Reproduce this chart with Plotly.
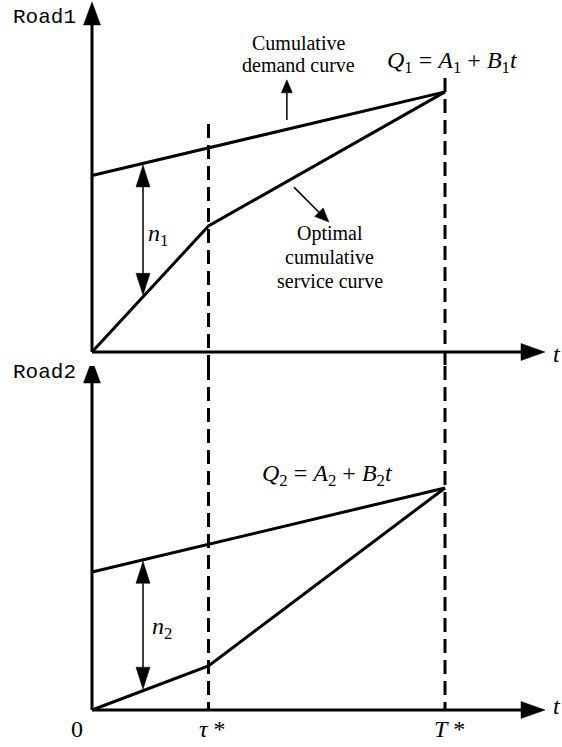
import math
import plotly.graph_objects as go

# ---- data (time normalised so that T* = 10) ----
t_tau = 3.3
t_end = 10.0

# Road 1: cumulative demand Q1 = A1 + B1 t and optimal cumulative service
demand1_t = [0.0, t_end]
demand1_q = [5.0, 7.37]
service1_t = [0.0, t_tau, t_end]
service1_q = [0.0, 3.57, 7.37]

# Road 2: cumulative demand Q2 = A2 + B2 t and optimal cumulative service
demand2_t = [0.0, t_end]
demand2_q = [3.91, 6.29]
service2_t = [0.0, t_tau, t_end]
service2_q = [0.0, 1.25, 6.29]

tick_t = [0.0, t_tau, t_end]
tick_labels = ["0", "<i>τ</i> *", "<i>T</i> *"]

queue_t = 1.445          # where the queue lengths n1, n2 are marked

# ---- layout geometry ----
W, H = 562, 747
PX = 35.3                # pixels per data unit (same on both axes)
ORIGIN_X = 92
ORIGIN_Y1 = 352
ORIGIN_Y2 = 710
SPLIT = 366

x_axis_end = (545 - ORIGIN_X) / PX
y_axis_end = 350 / PX

BLACK = "#000000"
MONO = "Liberation Mono"
SERIF = "Liberation Serif"


def interp(ts, qs, t):
    for i in range(len(ts) - 1):
        if ts[i] <= t <= ts[i + 1]:
            f = (t - ts[i]) / (ts[i + 1] - ts[i])
            return qs[i] + f * (qs[i + 1] - qs[i])
    return qs[-1]


def head(xt, yt, dx, dy, length_px, half_px):
    n = math.hypot(dx, dy)
    ux, uy = dx / n, dy / n
    L, Wd = length_px / PX, half_px / PX
    bx, by = xt - ux * L, yt - uy * L
    nx, ny = -uy, ux
    xs = [xt, bx + nx * Wd, bx - nx * Wd, xt]
    ys = [yt, by + ny * Wd, by - ny * Wd, yt]
    return xs, ys, (bx, by)


fig = go.Figure()


def add_line(xs, ys, yaxis, width=3, dash=None):
    fig.add_trace(go.Scatter(
        x=xs, y=ys, mode="lines", yaxis=yaxis, hoverinfo="skip",
        line=dict(color=BLACK, width=width, dash=dash), showlegend=False))


def add_head(xs, ys, yaxis):
    fig.add_trace(go.Scatter(
        x=xs, y=ys, mode="lines", fill="toself", fillcolor=BLACK, yaxis=yaxis,
        hoverinfo="skip", line=dict(color=BLACK, width=0.5), showlegend=False))


def arrow(x0, y0, x1, y1, yaxis, width, length_px, half_px):
    hx, hy, (bx, by) = head(x1, y1, x1 - x0, y1 - y0, length_px, half_px)
    add_line([x0, bx], [y0, by], yaxis, width=width)
    add_head(hx, hy, yaxis)


def double_arrow(x, y_top, y_bot, yaxis):
    hx, hy, (_, b_top) = head(x, y_top, 0, 1, 22, 7)
    add_head(hx, hy, yaxis)
    hx, hy, (_, b_bot) = head(x, y_bot, 0, -1, 22, 7)
    add_head(hx, hy, yaxis)
    add_line([x, x], [b_bot, b_top], yaxis, width=1.5)


y1_min = (ORIGIN_Y1 - SPLIT) / PX
y2_max = (ORIGIN_Y2 - SPLIT) / PX

panels = [
    ("y", demand1_t, demand1_q, service1_t, service1_q),
    ("y2", demand2_t, demand2_q, service2_t, service2_q),
]

for yaxis, dt, dq, st, sq in panels:
    # axes with arrowheads
    arrow(0, 0, 0, y_axis_end, yaxis, 3, 23, 8.5)
    arrow(0, 0, x_axis_end, 0, yaxis, 3, 24, 8.5)
    # curves
    add_line(dt, dq, yaxis)
    add_line(st, sq, yaxis)

# dashed markers at tau* and T*
add_line([t_tau, t_tau], [interp(demand1_t, demand1_q, t_tau) + 0.68, y1_min], "y", dash="14px,7px")
add_line([t_end, t_end], [demand1_q[-1] + 0.39, y1_min], "y", dash="14px,7px")
add_line([t_tau, t_tau], [y2_max, 0], "y2", dash="14px,7px")
add_line([t_end, t_end], [y2_max, 0], "y2", dash="14px,7px")

# queue lengths
off = 1.5 / PX
double_arrow(queue_t, interp(demand1_t, demand1_q, queue_t) - off,
             interp(service1_t, service1_q, queue_t) + off, "y")
double_arrow(queue_t, interp(demand2_t, demand2_q, queue_t) - off,
             interp(service2_t, service2_q, queue_t) + off, "y2")

# pointer arrows for the curve labels
arrow(5.52, 6.57, 5.52, 7.71, "y", 1.5, 13, 5.5)
arrow(5.72, 4.67, 6.71, 3.68, "y", 1.5, 14, 6)

ann = []


def text(x, y, s, yref="y", size=16, family=SERIF, xanchor="center", yanchor="middle"):
    ann.append(dict(x=x, y=y, xref="x", yref=yref, text=s, showarrow=False,
                    xanchor=xanchor, yanchor=yanchor,
                    font=dict(family=family, size=size, color=BLACK)))


text(-0.40, 9.49, "Road1", "y", 21, MONO, xanchor="right")
text(-0.40, 9.57, "Road2", "y2", 21, MONO, xanchor="right")

for i, s in enumerate(["Cumulative", "demand curve"]):
    text(5.84, 8.75 - i * 22 / PX, s, "y", 20, SERIF)
for i, s in enumerate(["Optimal", "cumulative", "service curve"]):
    text(6.74, 3.36 - i * 24 / PX, s, "y", 20, SERIF)

text(10.2, 8.22, "<i>Q</i><sub>1</sub> = <i>A</i><sub>1</sub> + <i>B</i><sub>1</sub><i>t</i>", "y", 24)
text(6.66, 6.66, "<i>Q</i><sub>2</sub> = <i>A</i><sub>2</sub> + <i>B</i><sub>2</sub><i>t</i>", "y2", 24)
text(1.87, 3.31, "<i>n</i><sub>1</sub>", "y", 24)
text(1.98, 2.32, "<i>n</i><sub>2</sub>", "y2", 24)
text(13.17, -0.06, "<i>t</i>", "y", 24)
text(13.17, 0.11, "<i>t</i>", "y2", 24)

tick_dx = [-0.425, 0.1, 0.14]
for tt, lab, dx in zip(tick_t, tick_labels, tick_dx):
    text(tt + dx, -0.10, lab, "y2", 24, yanchor="top")

fig.update_layout(
    width=W, height=H,
    margin=dict(l=0, r=0, t=0, b=0),
    paper_bgcolor="white", plot_bgcolor="white",
    showlegend=False,
    annotations=ann,
    xaxis=dict(range=[-ORIGIN_X / PX, (W - ORIGIN_X) / PX], visible=False,
               fixedrange=True, domain=[0, 1]),
    yaxis=dict(range=[y1_min, ORIGIN_Y1 / PX], visible=False, fixedrange=True,
               domain=[1 - SPLIT / H, 1], anchor="x"),
    yaxis2=dict(range=[(ORIGIN_Y2 - H) / PX, y2_max], visible=False, fixedrange=True,
                domain=[0, 1 - SPLIT / H], anchor="x"),
)

fig.write_html("out.html", config={"displayModeBar": False})
